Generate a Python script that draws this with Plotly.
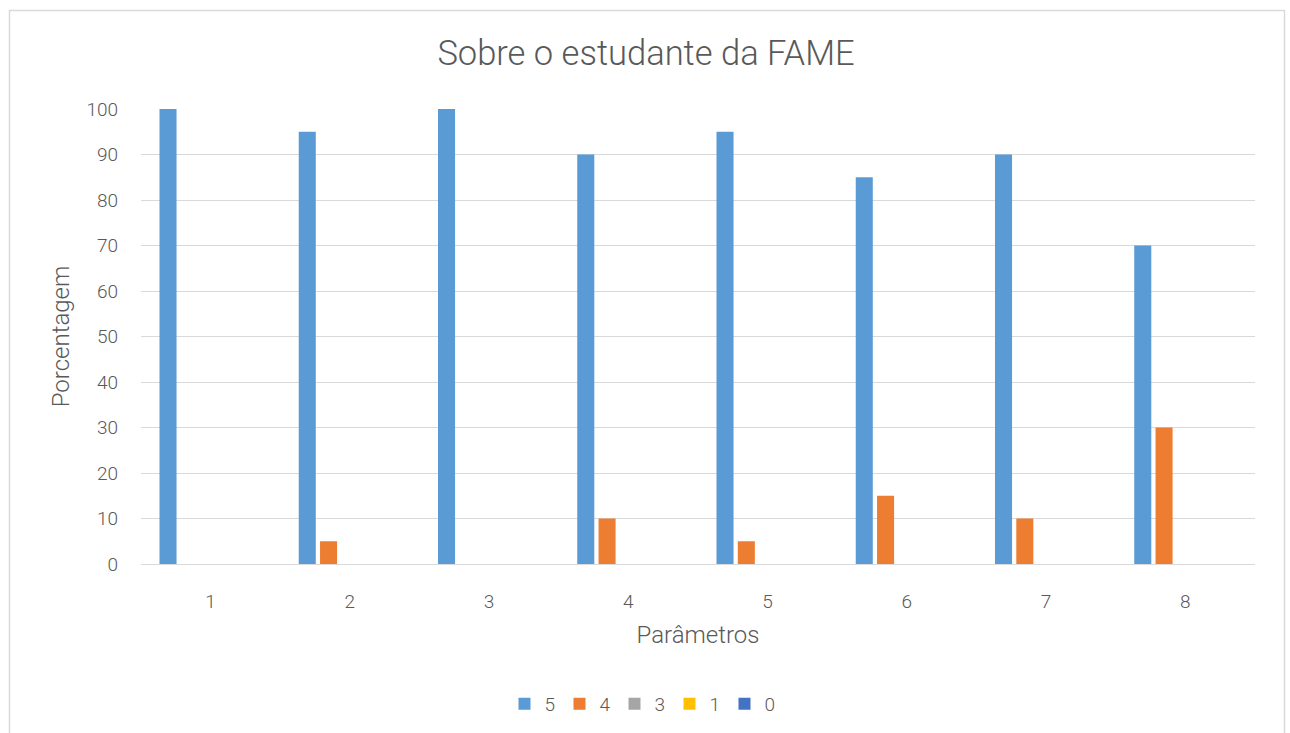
import plotly.graph_objects as go

categories = ["1", "2", "3", "4", "5", "6", "7", "8"]
series_names = ["5", "4", "3", "1", "0"]
s5 = [100, 95, 100, 90, 95, 85, 90, 70]
s4 = [0, 5, 0, 10, 5, 15, 10, 30]
s3 = [0, 0, 0, 0, 0, 0, 0, 0]
s1 = [0, 0, 0, 0, 0, 0, 0, 0]
s0 = [0, 0, 0, 0, 0, 0, 0, 0]
colors = ["#5B9BD5", "#ED7D31", "#A5A5A5", "#FFC000", "#4472C4"]
yticks = [0, 10, 20, 30, 40, 50, 60, 70, 80, 90, 100]

FONT = "Roboto"
GRAY = "#595959"

fig = go.Figure()
for name, vals, col in zip(series_names, [s5, s4, s3, s1, s0], colors):
    fig.add_trace(go.Bar(x=categories, y=vals, name=name, marker=dict(color=col, line=dict(width=0))))

W, H = 1290, 733
L, R, T, B = 141, 35, 109, 169
pw = W - L - R
ph = H - T - B

def px_x(p):
    return (p - L) / pw

def px_y(p):
    return (H - B - p) / ph

fig.update_layout(
    width=W, height=H,
    margin=dict(l=L, r=R, t=T, b=B, autoexpand=False),
    paper_bgcolor="white", plot_bgcolor="white",
    barmode="group", bargap=0.235, bargroupgap=0.2,
    font=dict(family=FONT, color=GRAY),
    title=dict(text="Sobre o estudante da FAME", x=646 / W, xref="container", xanchor="center",
               y=1 - 53 / H, yref="container", yanchor="middle",
               font=dict(family=FONT, size=34.5, color=GRAY, weight=300)),
    xaxis=dict(showgrid=False, showline=True, linecolor="#D9D9D9", linewidth=1,
               ticks="", tickfont=dict(size=19, color=GRAY, weight=300), ticklabelstandoff=20,
               title=dict(text="Parâmetros", font=dict(size=24, color=GRAY, weight=300), standoff=14)),
    yaxis=dict(range=[0, 100], tickvals=yticks, showgrid=True, gridcolor="#D9D9D9", gridwidth=1,
               zeroline=False, showline=False, ticks="", tickfont=dict(size=19, color=GRAY, weight=300),
               ticklabelstandoff=22,
               title=dict(text="Porcentagem", font=dict(size=24, color=GRAY, weight=300), standoff=9)),
    legend=dict(orientation="h", x=642 / W, xref="container", xanchor="center",
                y=1 - 704 / H, yref="container", yanchor="middle",
                font=dict(size=19, color=GRAY, weight=300), itemwidth=30,
                entrywidth=10, entrywidthmode="pixels", traceorder="normal"),
    showlegend=True,
)

fig.add_shape(type="rect", xref="paper", yref="paper",
              x0=px_x(9.5), x1=px_x(1284.5), y0=px_y(740), y1=px_y(10.5),
              line=dict(color="#D9D9D9", width=1.5), fillcolor="rgba(0,0,0,0)", layer="below")

fig.write_html("out.html", config={"displayModeBar": False},
               post_script="document.body.style.margin='0';document.body.style.overflow='hidden';")
